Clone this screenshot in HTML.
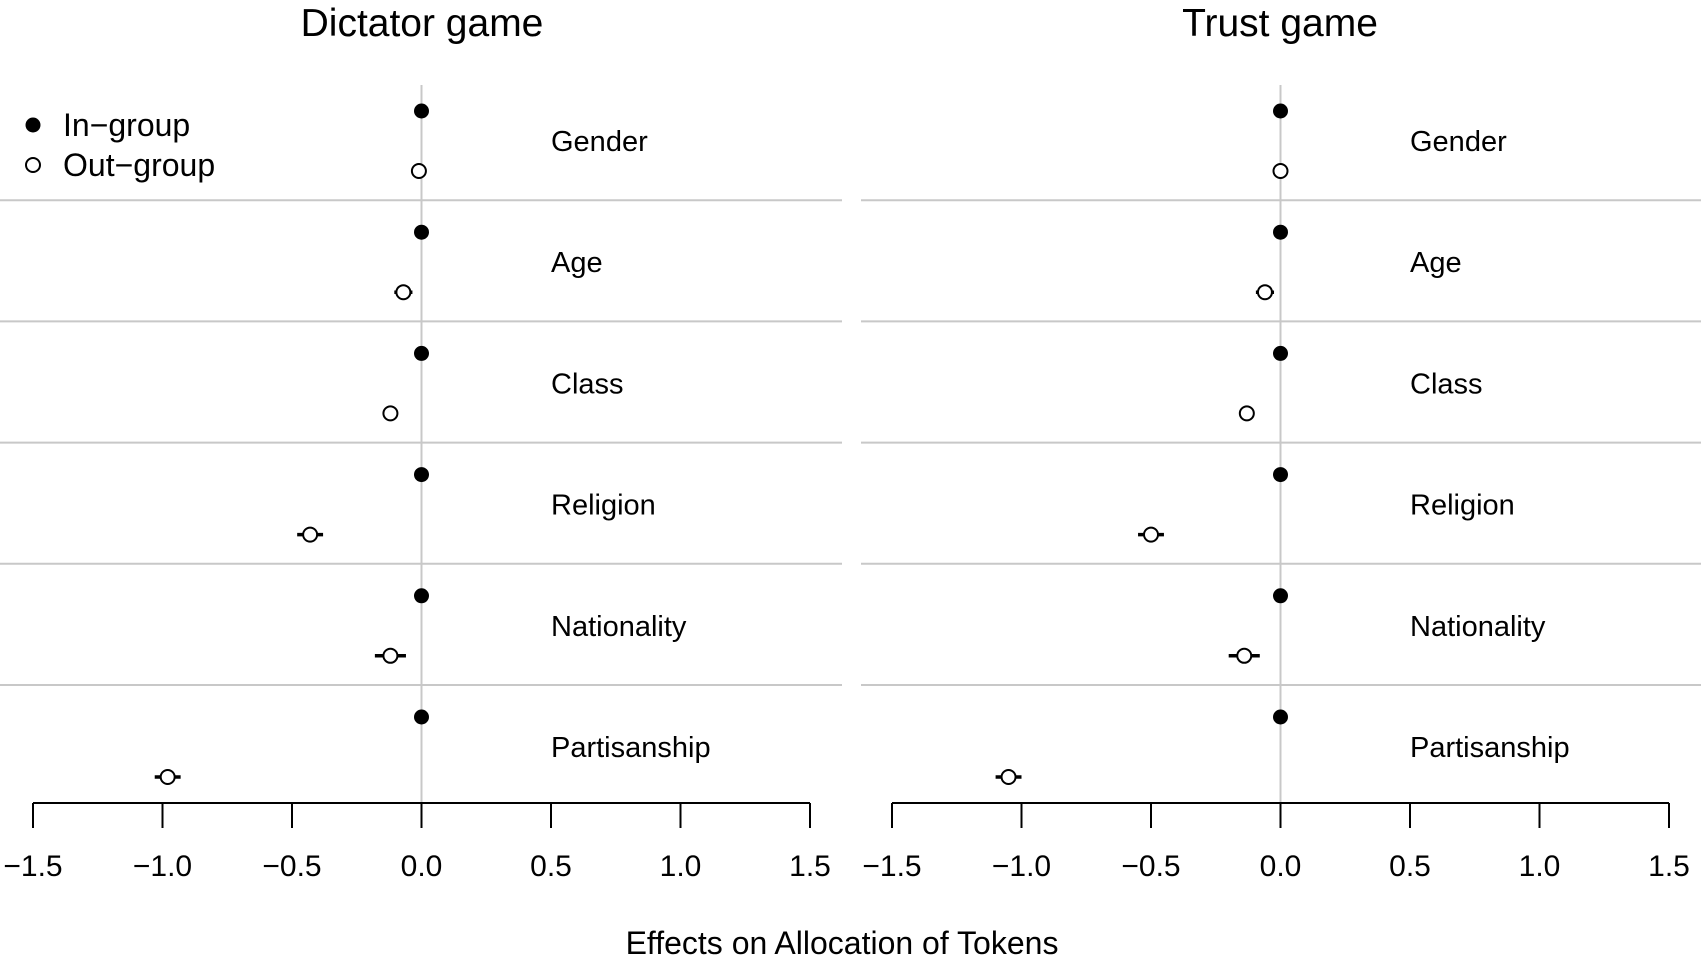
<!DOCTYPE html>
<html><head><meta charset="utf-8"><style>
html,body{margin:0;padding:0;background:#fff;}
svg{display:block;font-family:"Liberation Sans",Arial,sans-serif;}
</style></head><body>
<svg id="chart" width="1701" height="972" viewBox="0 0 1701 972">
<text x="422" y="36" font-size="39" text-anchor="middle">Dictator game</text>
<text x="1280" y="36" font-size="39" text-anchor="middle">Trust game</text>
<circle cx="33" cy="125" r="7.5" fill="#000"/>
<text x="63" y="136" font-size="32">In−group</text>
<circle cx="33" cy="165" r="7" fill="#fff" stroke="#000" stroke-width="2"/>
<text x="63" y="176" font-size="32">Out−group</text>
<text x="842" y="954" font-size="32" text-anchor="middle">Effects on Allocation of Tokens</text>
<g id="panels"></g>
</svg>
<script>
const categories = ["Gender","Age","Class","Religion","Nationality","Partisanship"];
const dictatorIn = [0,0,0,0,0,0];
const dictatorOut = [-0.01,-0.07,-0.12,-0.43,-0.12,-0.98];
const dictatorErr = [0.01,0.035,0.02,0.05,0.06,0.05];
const trustIn = [0,0,0,0,0,0];
const trustOut = [0.0,-0.06,-0.13,-0.5,-0.14,-1.05];
const trustErr = [0.01,0.035,0.02,0.05,0.06,0.05];
const ticks = [-1.5,-1.0,-0.5,0.0,0.5,1.0,1.5];
const tickLabels = ["−1.5","−1.0","−0.5","0.0","0.5","1.0","1.5"];

const NS = "http://www.w3.org/2000/svg";
const root = document.getElementById('panels');
function mk(tag, attrs, parent){
  const e = document.createElementNS(NS, tag);
  for (const k in attrs) e.setAttribute(k, attrs[k]);
  parent.appendChild(e); return e;
}
function panel(name, x0, x1, sepL, sepR, labelX, inV, outV, errV){
  const g = mk('g', {}, root);
  
  
  const sx = v => x0 + (v + 1.5) / 3 * (x1 - x0);
  const rowTop = 79, rowH = 121.2, axisY = 803;
  const zl = mk('line', {x1: sx(0), x2: sx(0), y1: 85, y2: axisY, stroke: '#c8c8c8', 'stroke-width': 2}, g);
  
  
  categories.forEach((c, i) => {
    const top = rowTop + i * rowH;
    if (i > 0) {
      const s = mk('line', {x1: sepL, x2: sepR, y1: top, y2: top, stroke: '#c8c8c8', 'stroke-width': 2}, g);
      
      
    }
    const t = mk('text', {x: labelX, y: top + 72, 'font-size': 29}, g);
    t.textContent = c;
    
    
    const yi = top + 32, yo = top + 92;
    const ci = mk('circle', {cx: sx(inV[i]), cy: yi, r: 7.5, fill: '#000'}, g);
    
    
    const el = mk('line', {x1: sx(outV[i] - errV[i]), x2: sx(outV[i] + errV[i]), y1: yo, y2: yo, stroke: '#000', 'stroke-width': 3.5}, g);
    
    
    const co = mk('circle', {cx: sx(outV[i]), cy: yo, r: 7, fill: '#fff', stroke: '#000', 'stroke-width': 2}, g);
    
    
  });
  const ax = mk('line', {x1: sx(ticks[0]), x2: sx(ticks[ticks.length-1]), y1: axisY, y2: axisY, stroke: '#000', 'stroke-width': 2}, g);
  
  
  ticks.forEach((v, i) => {
    const tk = mk('line', {x1: sx(v), x2: sx(v), y1: axisY, y2: 828, stroke: '#000', 'stroke-width': 2}, g);
    
    
    const tl = mk('text', {x: sx(v), y: 876, 'font-size': 30, 'text-anchor': 'middle'}, g);
    tl.textContent = tickLabels[i];
    
    
  });
}
panel('dictator', 33, 810, 0, 842, 551, dictatorIn, dictatorOut, dictatorErr);
panel('trust', 892, 1669, 861, 1701, 1410, trustIn, trustOut, trustErr);
</script>
</body></html>
